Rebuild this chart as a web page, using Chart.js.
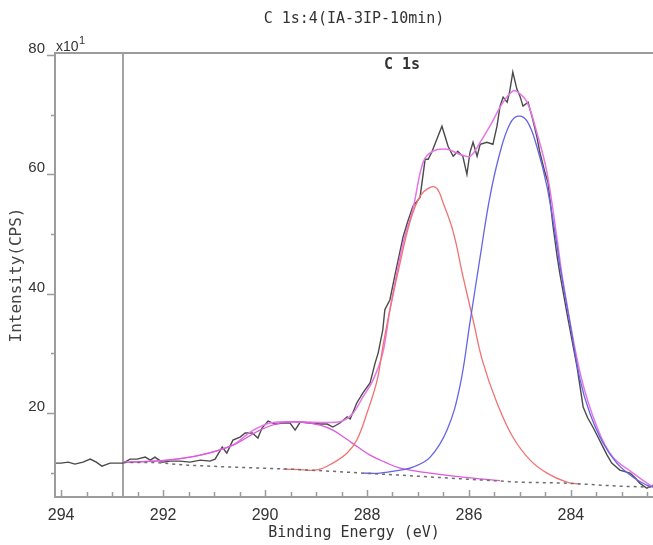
<!DOCTYPE html>
<html>
<head>
<meta charset="utf-8">
<script src="https://cdn.jsdelivr.net/npm/chart.js@4.4.1/dist/chart.umd.min.js"></script>
<style>
  html, body { margin: 0; padding: 0; background: #fff; }
  canvas { display: block; }
</style>
</head>
<body>
<canvas id="xps" width="653" height="545"></canvas>
<script>
// measured spectrum (raw counts, x10^1 CPS)
var rawEnergy = [294.12, 294.00, 293.86, 293.73, 293.57, 293.43, 293.31, 293.20, 293.04, 292.90,
	292.78, 292.65, 292.51, 292.35, 292.25, 292.16, 292.02, 291.86, 291.67, 291.47,
	291.27, 291.08, 290.98, 290.84, 290.75, 290.63, 290.49, 290.39, 290.25, 290.14,
	290.06, 289.94, 289.80, 289.65, 289.51, 289.41, 289.31, 289.12, 288.92, 288.78,
	288.67, 288.53, 288.39, 288.33, 288.20, 288.08, 287.94, 287.84, 287.78, 287.69,
	287.65, 287.55, 287.45, 287.29, 287.20, 287.10, 286.96, 286.86, 286.80, 286.73,
	286.63, 286.53, 286.41, 286.31, 286.22, 286.12, 286.04, 285.98, 285.92, 285.84,
	285.78, 285.65, 285.53, 285.45, 285.39, 285.33, 285.25, 285.20, 285.14, 285.06,
	285.00, 284.94, 284.84, 284.75, 284.67, 284.61, 284.51, 284.45, 284.41, 284.35,
	284.27, 284.22, 284.08, 283.98, 283.88, 283.76, 283.67, 283.57, 283.47, 283.37,
	283.29, 283.20, 283.04, 282.84, 282.75, 282.65, 282.51, 282.39];
var rawCounts = [11.60, 11.60, 11.76, 11.43, 11.76, 12.27, 11.76, 11.09, 11.60, 11.60,
	11.60, 12.27, 12.27, 12.61, 12.10, 12.61, 11.76, 11.93, 11.93, 11.76,
	12.10, 11.93, 12.27, 14.29, 13.28, 15.46, 15.97, 16.64, 16.64, 15.80,
	17.48, 18.66, 18.15, 18.32, 18.32, 17.14, 18.49, 18.32, 18.15, 18.15,
	17.65, 18.32, 19.33, 18.99, 21.68, 23.36, 25.04, 28.40, 30.08, 33.95,
	37.31, 38.99, 43.19, 49.58, 52.10, 54.62, 56.13, 62.52, 62.52, 63.70,
	65.88, 68.07, 64.71, 63.03, 63.87, 63.03, 60.00, 63.70, 65.38, 63.03,
	65.04, 65.38, 65.04, 68.07, 71.43, 72.94, 72.10, 73.95, 77.14, 74.29,
	73.11, 71.43, 72.10, 69.24, 66.39, 63.70, 60.34, 58.66, 55.80, 51.26,
	46.22, 43.53, 36.81, 32.27, 27.73, 21.01, 19.16, 17.65, 15.97, 14.29,
	12.94, 11.60, 10.42, 9.92, 9.24, 8.24, 7.39, 7.90];

// fitted envelope
var envEnergy = [292.78, 291.92, 291.27, 290.63, 290.29, 289.90, 289.31, 288.73, 288.47, 288.27,
	288.08, 287.88, 287.69, 287.55, 287.29, 287.10, 286.90, 286.71, 286.43, 286.18,
	285.98, 285.78, 285.59, 285.33, 285.14, 285.04, 284.86, 284.67, 284.47, 284.27,
	284.16, 283.82, 283.49, 283.18, 282.78, 282.45, 282.39];
var envCounts = [11.70, 12.10, 12.94, 14.62, 16.81, 18.32, 18.49, 18.40, 18.70, 20.00,
	22.69, 25.55, 30.08, 37.31, 48.57, 54.12, 62.02, 63.87, 64.20, 63.36,
	63.03, 65.38, 68.07, 72.10, 73.95, 73.78, 72.10, 67.06, 60.34, 49.08,
	42.35, 26.72, 17.65, 12.61, 9.92, 7.90, 7.70];

// component peaks (drawn on top of the background)
var ccEnergy = [288.08, 287.75, 287.35, 287.10, 286.76, 286.43, 286.18, 285.98, 285.78, 285.59,
	285.39, 285.20, 285.04, 284.86, 284.67, 284.47, 284.27, 284.22, 284.02, 283.82,
	283.63, 283.37, 283.10, 282.78, 282.51, 282.39];
var ccCounts = [9.92, 9.92, 10.42, 10.92, 12.61, 17.14, 24.37, 35.20, 46.20, 56.20,
	63.70, 68.40, 69.75, 68.91, 64.71, 57.98, 47.90, 44.87, 35.13, 25.55,
	20.00, 14.96, 11.60, 9.24, 7.90, 7.56];

var coEnergy = [289.65, 289.31, 288.98, 288.67, 288.39, 288.20, 288.00, 287.80, 287.69, 287.55,
	287.35, 287.16, 286.96, 286.76, 286.63, 286.51, 286.31, 286.12, 285.92, 285.73,
	285.45, 285.14, 284.80, 284.47, 284.08, 283.82];
var coCounts = [10.59, 10.50, 10.45, 11.60, 13.28, 15.46, 20.00, 25.55, 31.09, 37.31,
	45.21, 51.93, 56.30, 57.82, 57.65, 55.29, 50.40, 43.00, 35.63, 28.60,
	21.68, 15.97, 12.10, 9.92, 8.40, 8.07];

var coohEnergy = [292.78, 291.92, 291.27, 290.63, 290.10, 289.71, 289.31, 288.92, 288.67, 288.43,
	288.18, 287.94, 287.65, 287.35, 286.76, 286.12, 285.39];
var coohCounts = [11.70, 12.10, 12.94, 14.62, 17.14, 18.32, 18.49, 17.98, 17.14, 15.80,
	14.29, 12.94, 11.76, 10.76, 9.92, 9.24, 8.65];

// background
var bgEnergy = [292.78, 292.16, 291.53, 290.63, 289.51, 288.73, 288.08, 287.35, 286.04, 285.00, 284.08, 283.04, 282.39];
var bgCounts = [11.70, 11.70, 11.26, 10.92, 10.59, 10.25, 9.92, 9.58, 8.91, 8.40, 8.24, 7.73, 7.56];

// axes
var xTicks = [282.5, 283, 283.5, 284, 284.5, 285, 285.5, 286, 286.5, 287, 287.5, 288,
	288.5, 289, 289.5, 290, 290.5, 291, 291.5, 292, 292.5, 293, 293.5, 294];
var xTickLabels = [284, 286, 288, 290, 292, 294];
var yTicks = [10, 20, 30, 40, 50, 60, 70, 80];
var yTickLabels = [20, 40, 60, 80];
var regionStart = 292.78;

function pts(xs, ys) {
	return xs.map(function(v, i) { return { x: v, y: ys[i] }; });
}

var decor = {
	id: 'decor',
	beforeDatasetsDraw: function(chart) {
		var ctx = chart.ctx, a = chart.chartArea;
		var mx = chart.scales.x.getPixelForValue(regionStart);
		ctx.save();
		ctx.strokeStyle = '#a2a2a2';
		ctx.lineWidth = 2;
		ctx.beginPath();
		ctx.moveTo(Math.round(mx), a.top);
		ctx.lineTo(Math.round(mx), a.bottom);
		ctx.stroke();
		ctx.restore();
	},
	afterDraw: function(chart) {
		var ctx = chart.ctx, a = chart.chartArea;
		var xs = chart.scales.x, ys = chart.scales.y;
		ctx.save();
		// frame
		ctx.strokeStyle = '#9c9c9c';
		ctx.lineWidth = 2;
		ctx.beginPath();
		ctx.moveTo(a.right + 2, a.top);
		ctx.lineTo(a.left, a.top);
		ctx.lineTo(a.left, a.bottom);
		ctx.lineTo(a.right + 2, a.bottom);
		ctx.stroke();
		// ticks
		ctx.lineWidth = 1.5;
		ctx.beginPath();
		xTicks.forEach(function(v) {
			var px = Math.round(xs.getPixelForValue(v)) + 0.5;
			var len = xTickLabels.indexOf(v) >= 0 ? 7 : 5;
			ctx.moveTo(px, a.bottom);
			ctx.lineTo(px, a.bottom - len);
		});
		yTicks.forEach(function(v) {
			var py = Math.round(ys.getPixelForValue(v)) + 0.5;
			var len = yTickLabels.indexOf(v) >= 0 ? 8 : 4;
			ctx.moveTo(a.left, py);
			ctx.lineTo(a.left - len, py);
		});
		ctx.stroke();

		// texts
		ctx.fillStyle = '#333';
		ctx.textAlign = 'center';
		ctx.textBaseline = 'middle';
		ctx.font = '15px "DejaVu Sans Mono"';
		ctx.fillText('C 1s:4(IA-3IP-10min)', (a.left + a.right) / 2, 19);
		ctx.font = 'bold 15px "DejaVu Sans Mono"';
		ctx.fillText('C 1s', 402, 65);
		ctx.font = '15px "DejaVu Sans Mono"';
		ctx.fillText('Binding Energy (eV)', (a.left + a.right) / 2, 533);

		ctx.textAlign = 'left';
		ctx.textBaseline = 'alphabetic';
		ctx.font = '14px "Liberation Sans"';
		ctx.fillText('x10', 56, 51);
		ctx.font = '11px "Liberation Sans"';
		ctx.fillText('1', 79, 44);

		ctx.translate(17, (a.top + a.bottom) / 2);
		ctx.rotate(-Math.PI / 2);
		ctx.textAlign = 'center';
		ctx.textBaseline = 'middle';
		ctx.font = '16px "DejaVu Sans Mono"';
		ctx.fillStyle = '#444';
		ctx.fillText('Intensity(CPS)', 0, 0);
		ctx.restore();
	}
};

var ctx = document.getElementById('xps').getContext('2d');
var chart = new Chart(ctx, {
	type: 'line',
	data: {
		datasets: [
			{
				label: 'Background',
				data: pts(bgEnergy, bgCounts),
				borderColor: '#6e6e6e',
				borderWidth: 1.5,
				borderDash: [3, 4],
				tension: 0
			},
			{
				label: 'C-C',
				data: pts(ccEnergy, ccCounts),
				borderColor: '#6464e6',
				borderWidth: 1.3,
				tension: 0.4
			},
			{
				label: 'C-O',
				data: pts(coEnergy, coCounts),
				borderColor: '#f07272',
				borderWidth: 1.3,
				tension: 0.4
			},
			{
				label: 'O-C=O',
				data: pts(coohEnergy, coohCounts),
				borderColor: '#dc5adc',
				borderWidth: 1.3,
				tension: 0.4
			},
			{
				label: 'Envelope',
				data: pts(envEnergy, envCounts),
				borderColor: '#e676e6',
				borderWidth: 1.5,
				tension: 0.35
			},
			{
				label: 'Raw',
				data: pts(rawEnergy, rawCounts),
				borderColor: '#4a4a4a',
				borderWidth: 1.4,
				tension: 0
			}
		]
	},
	options: {
		responsive: false,
		animation: false,
		layout: { padding: { top: 53, left: 0, right: 0, bottom: 0 } },
		elements: { point: { radius: 0 } },
		plugins: {
			legend: { display: false },
			tooltip: { enabled: false }
		},
		scales: {
			x: {
				type: 'linear',
				reverse: true,
				min: 282.39,
				max: 294.12,
				grid: { display: false, drawTicks: false },
				border: { display: false },
				afterBuildTicks: function(s) {
					s.ticks = xTicks.map(function(v) { return { value: v }; });
				},
				afterFit: function(s) { s.height = 48; },
				ticks: {
					autoSkip: false,
					maxRotation: 0,
					padding: 9,
					color: '#333',
					font: { family: 'Liberation Sans', size: 16 },
					callback: function(v) { return xTickLabels.indexOf(v) >= 0 ? String(v) : ''; }
				}
			},
			y: {
				type: 'linear',
				min: 5.92,
				max: 80.34,
				grid: { display: false, drawTicks: false },
				border: { display: false },
				afterBuildTicks: function(s) {
					s.ticks = yTicks.map(function(v) { return { value: v }; });
				},
				afterFit: function(s) { s.width = 55; },
				ticks: {
					autoSkip: false,
					padding: 10,
					labelOffset: -6,
					color: '#333',
					font: { family: 'Liberation Sans', size: 15 },
					callback: function(v) { return yTickLabels.indexOf(v) >= 0 ? String(v) : ''; }
				}
			}
		}
	},
	plugins: [decor]
});
</script>
</body>
</html>
